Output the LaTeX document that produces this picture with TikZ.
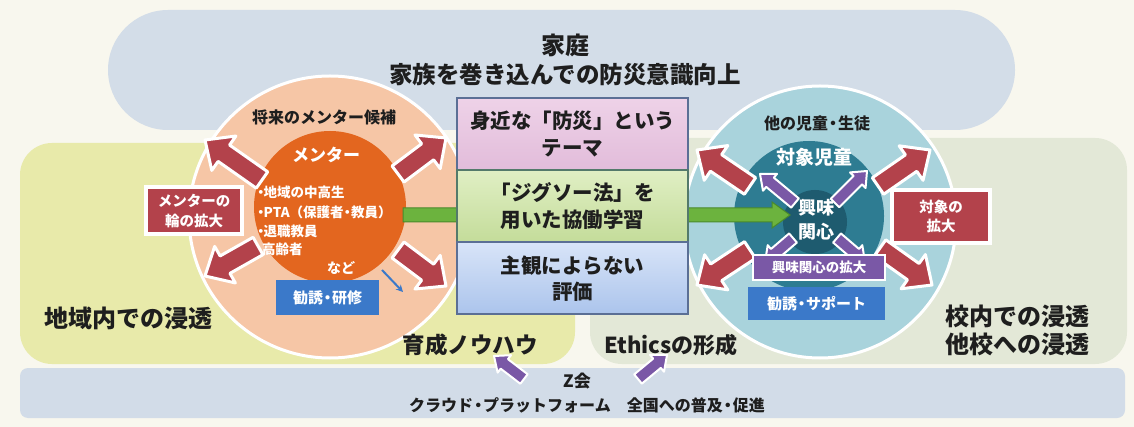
\documentclass[tikz,border=0pt]{standalone}
\usepackage{fontspec}
\setmainfont{Noto Sans CJK JP}
\usetikzlibrary{calc,arrows.meta}
\definecolor{bg}{HTML}{F8F7EE}
\definecolor{famblue}{HTML}{D3DDE8}
\definecolor{yel}{HTML}{E8EAAA}
\definecolor{rgray}{HTML}{E3E8D7}
\definecolor{band}{HTML}{D2DCE8}
\definecolor{peach}{HTML}{F6C6A6}
\definecolor{orng}{HTML}{E3661F}
\definecolor{dred}{HTML}{B3424B}
\definecolor{bluebox}{HTML}{3B79C9}
\definecolor{lblue}{HTML}{A9D3DC}
\definecolor{teal}{HTML}{2E7C92}
\definecolor{dteal}{HTML}{1E5B6F}
\definecolor{purp}{HTML}{7A58A6}
\definecolor{grn}{HTML}{6CB33E}
\definecolor{dgrn}{HTML}{4A8A2B}
\definecolor{bxborder}{HTML}{5B6F95}
\definecolor{pinktop}{HTML}{EED2E8}
\definecolor{pinkbot}{HTML}{E2BCDA}
\definecolor{grntop}{HTML}{E0EFC4}
\definecolor{grnbot}{HTML}{C4DC9A}
\definecolor{blutop}{HTML}{D8E4F8}
\definecolor{blubot}{HTML}{ABC4EC}
\definecolor{txt}{HTML}{1E1E1E}
\newcommand\fsz[1]{\fontsize{#1}{#1}\selectfont}
\newcommand\bul{・\kern-4pt}
\newcommand\blockarr[6]{%
  \coordinate (bh) at ($(#3)!#6!(#2)$);
  \draw[#1] ($(#2)!#4!90:(#3)$) -- ($(bh)!#4!90:(#3)$) -- ($(bh)!#5!90:(#3)$) -- (#3) -- ($(bh)!#5!-90:(#3)$) -- ($(bh)!#4!-90:(#3)$) -- ($(#2)!#4!-90:(#3)$) -- cycle;}
\tikzset{
  redarr/.style={fill=dred, draw=white, line width=3pt, line join=round},
  purarr/.style={fill=purp, draw=white, line width=2pt, line join=round},
  grnarr/.style={fill=grn, draw=dgrn, line width=1pt},
  lbl/.style={text=txt, font=\bfseries, inner sep=0pt},
  wlbl/.style={text=white, font=\bfseries, inner sep=0pt},
  cbox/.style={draw=bxborder, line width=2pt, minimum width=231pt, minimum height=72pt, align=center, text=txt, font=\bfseries\fsz{20.5}, inner sep=0pt},
  redbox/.style={fill=dred, draw=white, line width=4pt, align=center, text=white, font=\bfseries\fsz{14.5}, inner sep=0pt},
}
\begin{document}
\begin{tikzpicture}[x=1pt,y=-1pt]
\useasboundingbox (0,0) rectangle (1134,427);
\fill[bg] (0,0) rectangle (1134,427);
% regions
\fill[famblue, rounded corners=60pt] (108,10) rectangle (1015,130);
\fill[yel, rounded corners=32pt] (20,143) rectangle (575,364);
\fill[rgray, rounded corners=32pt] (590,138) rectangle (1127,364);
\fill[band, rounded corners=8pt] (20,368) rectangle (1125,418);
% circles
\node[circle, fill=peach, draw=white, line width=3pt, minimum size=282pt, inner sep=0pt] (lc) at (330,217) {};
\node[circle, fill=lblue, draw=white, line width=3pt, minimum size=272pt, inner sep=0pt] (rc) at (820,222) {};
\node[circle, fill=orng, minimum size=152pt, inner sep=0pt] (oc) at (330,207) {};
\node[circle, fill=teal, minimum size=150pt, inner sep=0pt] (tc) at (809,216) {};
\node[circle, fill=dteal, minimum size=64pt, inner sep=0pt] (dc) at (815,222) {};
% green arrow
\coordinate (ga) at (403,215);
\coordinate (gb) at (790,215);
\blockarr{grnarr}{ga}{gb}{7pt}{13pt}{18pt}
% centre boxes
\node[cbox, top color=pinktop, bottom color=pinkbot] (b1) at (572.5,134) {身近な「防災」という\\[6pt]テーマ};
\node[cbox, top color=grntop, bottom color=grnbot, draw=bxborder!60!dgrn] (b2) at (572.5,206) {「ジグソー法」を\\[6pt]用いた協働学習};
\node[cbox, top color=blutop, bottom color=blubot] (b3) at (572.5,278.5) {主観によらない\\[6pt]評価};
% red arrows left
\coordinate (l1a) at (262,180); \coordinate (l1b) at (205,140);
\coordinate (l2a) at (398,174); \coordinate (l2b) at (446,138);
\coordinate (l3a) at (258,246); \coordinate (l3b) at (205,276);
\coordinate (l4a) at (398,250); \coordinate (l4b) at (446,286);
\blockarr{redarr}{l1a}{l1b}{10pt}{21pt}{23pt}
\blockarr{redarr}{l2a}{l2b}{10pt}{21pt}{23pt}
\blockarr{redarr}{l3a}{l3b}{10pt}{21pt}{23pt}
\blockarr{redarr}{l4a}{l4b}{10pt}{21pt}{23pt}
% red arrows right
\coordinate (r1a) at (750,186); \coordinate (r1b) at (697,150);
\coordinate (r2a) at (878,186); \coordinate (r2b) at (930,150);
\coordinate (r3a) at (750,250); \coordinate (r3b) at (697,285);
\coordinate (r4a) at (880,248); \coordinate (r4b) at (932,285);
\blockarr{redarr}{r1a}{r1b}{10pt}{21pt}{23pt}
\blockarr{redarr}{r2a}{r2b}{10pt}{21pt}{23pt}
\blockarr{redarr}{r3a}{r3b}{10pt}{21pt}{23pt}
\blockarr{redarr}{r4a}{r4b}{10pt}{21pt}{23pt}
% purple arrows inside right
\coordinate (p1a) at (795,203); \coordinate (p1b) at (760,174);
\coordinate (p2a) at (835,203); \coordinate (p2b) at (867,171);
\coordinate (p3a) at (793,238); \coordinate (p3b) at (765,262);
\coordinate (p4a) at (837,238); \coordinate (p4b) at (865,262);
\blockarr{purarr}{p1a}{p1b}{6pt}{11pt}{13pt}
\blockarr{purarr}{p2a}{p2b}{6pt}{11pt}{13pt}
\blockarr{purarr}{p3a}{p3b}{6pt}{11pt}{13pt}
\blockarr{purarr}{p4a}{p4b}{6pt}{11pt}{13pt}
% boxes
\node[redbox, minimum width=96pt, minimum height=47pt] (lrb) at (194,211) {メンターの\\[5pt]輪の拡大};
\node[redbox, minimum width=98pt, minimum height=53pt] (rrb) at (941,216.5) {対象の\\[5pt]拡大};
\node[fill=bluebox, minimum width=103pt, minimum height=35pt, inner sep=0pt, text=white, font=\bfseries\fsz{15}] (kb1) at (327.5,297.5) {勧誘\kern-3pt・\kern-3pt研修};
\node[fill=purp, draw=white, line width=2pt, minimum width=132pt, minimum height=25pt, inner sep=0pt, text=white, font=\bfseries\fsz{13.5}] (pb) at (819,267.5) {興味関心の拡大};
\node[fill=bluebox, minimum width=137pt, minimum height=33pt, inner sep=0pt, text=white, font=\bfseries\fsz{15}] (kb2) at (816.5,303.5) {勧誘\kern-3pt・\kern-3ptサポート};
% blue thin arrow
\coordinate (bt1) at (382,270); \coordinate (bt2) at (403,292);
\draw[bluebox, line width=2pt, -{Stealth[length=7pt,width=7pt]}] (bt1) -- (bt2);
% texts
\node[lbl, font=\bfseries\fsz{24}] (fam1) at (565,45) {家庭};
\node[lbl, font=\bfseries\fsz{23.5}] (fam2) at (565,75) {家族を巻き込んでの防災意識向上};
\node[lbl, font=\bfseries\fsz{16}] (lcand) at (324,117) {将来のメンター候補};
\node[wlbl, font=\bfseries\fsz{17}] (ment) at (326,155) {メンター};
\node[wlbl, font=\bfseries\fsz{13.5}, anchor=west] (m1) at (254,192) {\bul 地域の中高生};
\node[wlbl, font=\bfseries\fsz{13.5}, anchor=west] (m2) at (254,212) {\bul PTA（保護者\kern-3pt・\kern-3pt教員）};
\node[wlbl, font=\bfseries\fsz{13.5}, anchor=west] (m3) at (254,231) {\bul 退職教員};
\node[wlbl, font=\bfseries\fsz{13.5}, anchor=west] (m4) at (262,249) {高齢者};
\node[wlbl, font=\bfseries\fsz{14}] (nado) at (341,268) {など};
\node[lbl, font=\bfseries\fsz{16}] (roth) at (817,123) {他の児童\kern-3pt・\kern-3pt生徒};
\node[wlbl, font=\bfseries\fsz{19}] (taisho) at (814,157) {対象児童};
\node[wlbl, font=\bfseries\fsz{18}] (kyo1) at (816,208) {興味};
\node[wlbl, font=\bfseries\fsz{18}] (kyo2) at (816,232) {関心};
\node[lbl, font=\bfseries\fsz{24}] (chiiki) at (128,318) {地域内での浸透};
\node[lbl, font=\bfseries\fsz{24}] (kounai) at (1017,316) {校内での浸透};
\node[lbl, font=\bfseries\fsz{24}] (takou) at (1017,344) {他校への浸透};
\node[lbl, font=\bfseries\fsz{22.5}] (ikusei) at (470,345) {育成ノウハウ};
\node[lbl, font=\bfseries\fsz{22}] (ethics) at (671,345) {Ethicsの形成};
\node[lbl, font=\bfseries\fsz{17}] (zkai) at (577,381) {Z会};
\node[lbl, font=\bfseries\fsz{16}] (cloud) at (587,405) {クラウド\kern-3pt・\kern-3ptプラットフォーム　全国への普及\kern-3pt・\kern-3pt促進};
% bottom purple arrows
\coordinate (q1a) at (524,379); \coordinate (q1b) at (494,356);
\coordinate (q2a) at (638,379); \coordinate (q2b) at (667,355);
\blockarr{purarr}{q1a}{q1b}{6pt}{11pt}{13pt}
\blockarr{purarr}{q2a}{q2b}{6pt}{11pt}{13pt}
\end{tikzpicture}
\end{document}
